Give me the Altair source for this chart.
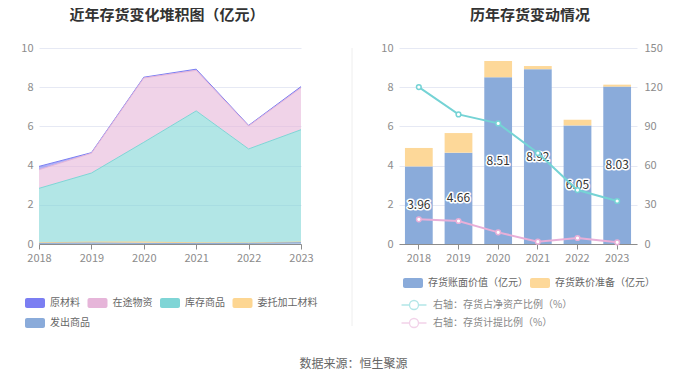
import altair as alt
import pandas as pd

FONT = "Noto Sans CJK SC"

years = ["2018", "2019", "2020", "2021", "2022", "2023"]

# Left chart: stacked inventory composition (亿元)
raw_material = [0.17, 0.03, 0.04, 0.06, 0.03, 0.06]     # 原材料
in_transit = [0.95, 1.01, 3.28, 2.07, 1.17, 2.14]       # 在途物资
stock_goods = [2.78, 3.52, 5.09, 6.73, 4.80, 5.73]      # 库存商品
consigned = [0.03, 0.05, 0.07, 0.03, 0.02, 0.03]        # 委托加工材料
shipped = [0.03, 0.05, 0.03, 0.03, 0.03, 0.07]          # 发出商品

left_names = ["原材料", "在途物资", "库存商品", "委托加工材料", "发出商品"]
left_colors = ["#7b7ef2", "#e6b5d9", "#7fd5d6", "#fdd692", "#8aabda"]
stack_order = ["发出商品", "委托加工材料", "库存商品", "在途物资", "原材料"]

# Right chart
book_value = [3.96, 4.66, 8.51, 8.92, 6.05, 8.03]       # 存货账面价值（亿元）
impairment = [0.94, 1.00, 0.83, 0.16, 0.29, 0.10]       # 存货跌价准备（亿元）
ratio_net_assets = [120.1, 99.2, 92.3, 69.6, 41.3, 32.9]  # 存货占净资产比例
ratio_provision = [18.9, 17.6, 8.9, 1.8, 4.6, 1.3]        # 存货计提比例

bar_names = ["存货账面价值（亿元）", "存货跌价准备（亿元）"]
bar_colors = ["#8aabda", "#fdd899"]
line_names = ["右轴：存货占净资产比例（%）", "右轴：存货计提比例（%）"]
line_colors = ["#75d3d5", "#e8afd8"]

# ---------- data frames ----------
series_map = {"原材料": raw_material, "在途物资": in_transit, "库存商品": stock_goods,
              "委托加工材料": consigned, "发出商品": shipped}
left_rows = []
for name in left_names:
    for i, y in enumerate(years):
        left_rows.append({"year": y, "series": name, "value": series_map[name][i],
                          "order": stack_order.index(name)})
left_df = pd.DataFrame(left_rows)
legend2_df = pd.DataFrame({"year": [years[0]], "value": [0.0], "series": [left_names[4]]})

bar_rows = []
for i, y in enumerate(years):
    bar_rows.append({"year": y, "kind": bar_names[0], "value": book_value[i], "order": 0})
    bar_rows.append({"year": y, "kind": bar_names[1], "value": impairment[i], "order": 1})
bar_df = pd.DataFrame(bar_rows)

label_df = pd.DataFrame({"year": years, "book": book_value,
                         "mid": [v / 2 for v in book_value],
                         "txt": [f"{v:.2f}" for v in book_value]})

line_rows = []
for i, y in enumerate(years):
    line_rows.append({"year": y, "metric": line_names[0], "value": ratio_net_assets[i]})
    line_rows.append({"year": y, "metric": line_names[1], "value": ratio_provision[i]})
line_df = pd.DataFrame(line_rows)

RECT = ("M-0.8,-0.5H0.8A0.2,0.2 0 0 1 1,-0.3V0.3A0.2,0.2 0 0 1 0.8,0.5"
        "H-0.8A0.2,0.2 0 0 1 -1,0.3V-0.3A0.2,0.2 0 0 1 -0.8,-0.5Z")
# drawn ~25px wide with a 12px layout box (size 144 -> unit = 6px)
LINESYM = ("M-2.08,0H-0.75M0.75,0H2.08M-0.75,0A0.75,0.75 0 1 0 0.75,0"
           "A0.75,0.75 0 1 0 -0.75,0")

GRID = "#e6e9f4"
LAB = "#8c8c8c"
LEG_FS = 10

x_axis_common = dict(labelAngle=0, labelColor=LAB, labelFontSize=11, domainColor="#8c8c8c",
                     tickColor="#8c8c8c", tickSize=5, labelPadding=3, title=None, grid=False)
y_axis_common = dict(labelColor=LAB, labelFontSize=11, domain=False, ticks=False,
                     gridColor=GRID, title=None, labelPadding=6)

rect_legend = dict(title=None, orient="none", direction="horizontal", symbolType=RECT,
                   symbolSize=400, symbolStrokeWidth=0, symbolOpacity=1,
                   labelFontSize=LEG_FS, labelColor="#666", labelOffset=5)

# ---------- left chart ----------
x_left = alt.X("year:O", scale=alt.Scale(type="point", padding=0),
               axis=alt.Axis(**x_axis_common))
y_left = alt.Y("value:Q", stack="zero", scale=alt.Scale(domain=[0, 10]),
               axis=alt.Axis(values=[0, 2, 4, 6, 8, 10], **y_axis_common))

areas = alt.Chart(left_df).mark_area(fillOpacity=0.6, line={"strokeWidth": 1}).encode(
    x=x_left,
    y=y_left,
    color=alt.Color("series:N", scale=alt.Scale(domain=left_names, range=left_colors),
                    legend=alt.Legend(legendX=-14, legendY=245, values=left_names[:4],
                                      columnPadding=7.5, **rect_legend)),
    order=alt.Order("order:Q"),
)
# second legend row (发出商品), carried by an invisible mark
legend_row2 = alt.Chart(legend2_df).mark_point(opacity=0).encode(
    x=x_left,
    y=alt.Y("value:Q", scale=alt.Scale(domain=[0, 10]),
            axis=alt.Axis(values=[0, 2, 4, 6, 8, 10], **y_axis_common)),
    fill=alt.Fill("series:N", scale=alt.Scale(domain=[left_names[4]], range=[left_colors[4]]),
                  legend=alt.Legend(legendX=-14, legendY=265, **rect_legend)),
)
# faint divider between the two panels
divider = alt.Chart(legend2_df).mark_rule(color="#eeeeee", strokeWidth=1).encode(
    x=alt.value(313), y=alt.value(0), y2=alt.value(278))

left = alt.layer(divider, areas, legend_row2).properties(
    width=262, height=196,
    title=alt.TitleParams("近年存货变化堆积图（亿元）", fontSize=15, fontWeight="bold",
                          color="#333", offset=19, anchor="middle", dx=-3))

# ---------- right chart ----------
xband = alt.X("year:N", scale=alt.Scale(paddingInner=0.3, paddingOuter=0.15),
              axis=alt.Axis(**x_axis_common))
y_left_r = alt.Y("value:Q", stack="zero", scale=alt.Scale(domain=[0, 10]),
                 axis=alt.Axis(values=[0, 2, 4, 6, 8, 10], **y_axis_common))
y_mid = alt.Y("mid:Q", scale=alt.Scale(domain=[0, 10]),
              axis=alt.Axis(values=[0, 2, 4, 6, 8, 10], **y_axis_common))

bars = alt.Chart(bar_df).mark_bar().encode(
    x=xband,
    y=y_left_r,
    fill=alt.Fill("kind:N", scale=alt.Scale(domain=bar_names, range=bar_colors),
                  legend=alt.Legend(legendX=4, legendY=225, columnPadding=2, **rect_legend)),
    order=alt.Order("order:Q"),
)

halo = alt.Chart(label_df).mark_text(fontSize=12, stroke="white", strokeWidth=3,
                                     strokeJoin="round", color="white").encode(
    x=xband, y=y_mid, text="txt:N")
labels = alt.Chart(label_df).mark_text(fontSize=12, color="#333").encode(
    x=xband, y=y_mid, text="txt:N")

y_right = alt.Y("value:Q", scale=alt.Scale(domain=[0, 150]),
                axis=alt.Axis(orient="right", values=[0, 30, 60, 90, 120, 150], grid=False,
                              labelColor=LAB, labelFontSize=11, domain=False, ticks=False,
                              title=None, labelPadding=7))
stroke_enc = alt.Stroke("metric:N", scale=alt.Scale(domain=line_names, range=line_colors),
                        legend=alt.Legend(title=None, orient="none", legendX=8, legendY=250,
                                          direction="vertical", columns=1,
                                          symbolType=LINESYM, symbolSize=144,
                                          symbolStrokeWidth=1.3, symbolFillColor="white",
                                          symbolOpacity=0.55, labelFontSize=LEG_FS,
                                          labelColor="#888", rowPadding=2, labelOffset=12))
lines = alt.Chart(line_df).mark_line(strokeWidth=2).encode(x=xband, y=y_right, stroke=stroke_enc)
points = alt.Chart(line_df).mark_point(filled=True, fill="white", size=22, strokeWidth=1.5,
                                       opacity=1).encode(x=xband, y=y_right, stroke=stroke_enc)

right = alt.layer(
    alt.layer(bars, halo, labels),
    alt.layer(lines, points),
).resolve_scale(y="independent").properties(
    width=238, height=196,
    title=alt.TitleParams("历年存货变动情况", fontSize=15, fontWeight="bold", color="#333",
                          offset=19, anchor="middle", dx=12))

chart = alt.hconcat(left, right, spacing=98, bounds="flush").resolve_scale(
    color="independent", fill="independent", stroke="independent"
).properties(
    padding={"left": 12, "top": 0, "right": 5, "bottom": 0},
    title=alt.TitleParams("数据来源：恒生聚源", orient="bottom", anchor="middle", fontSize=12,
                          fontWeight="normal", color="#666", offset=28, dx=12),
).configure(font=FONT).configure_view(stroke=None)

chart.save("out.html", embed_options={"renderer": "svg", "actions": False})
